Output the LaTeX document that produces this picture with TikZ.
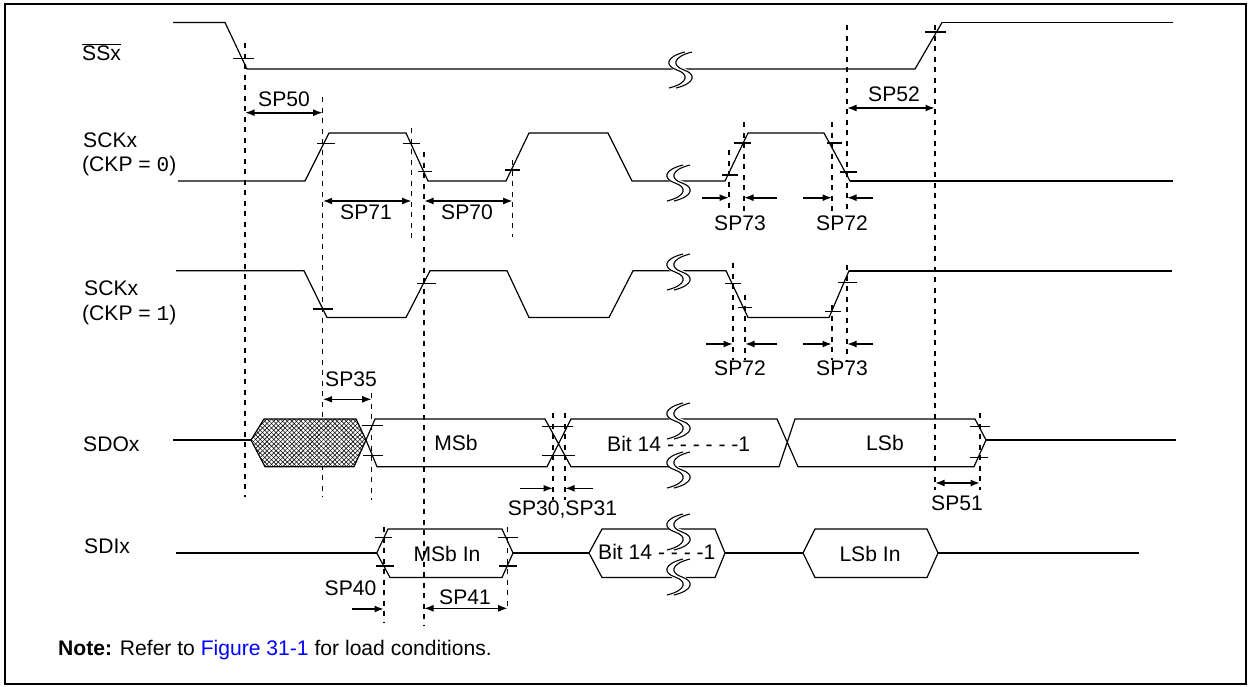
\documentclass[tikz,border=0pt]{standalone}
\usepackage{fontspec}
\setmainfont{Liberation Sans}
\newfontfamily\monof{Liberation Mono}
\usetikzlibrary{arrows.meta,patterns.meta}
\definecolor{figblue}{RGB}{0,0,255}
\newcommand\fs{\fontsize{21.1}{24}\selectfont}
\tikzset{
 sig/.style={line width=1.2pt, line join=miter},
 sigb/.style={line width=1.9pt},
 tk/.style={line width=1.4pt},
 vdash/.style={line width=1.5pt, dash pattern=on 5pt off 5.5pt},
 dim/.style={line width=1.6pt, {Latex[length=9.5pt,width=7pt]}-{Latex[length=9.5pt,width=7pt]}},
 rdim/.style={line width=1.6pt, -{Latex[length=9.5pt,width=7pt]}},
 lbl/.style={inner sep=0pt, anchor=base west, font=\fs},
 sp/.style={inner sep=0pt, anchor=base, font=\fs},
}
\newcommand\sqg[2]{%
 \draw[white,line width=6.5pt] ({#1+11.5},{#2-18}) .. controls ({#1-8.5},{#2-13}) and ({#1-8.5},{#2-4}) .. ({#1+3.5},{#2}) .. controls ({#1+15.5},{#2+4}) and ({#1+15.5},{#2+13}) .. ({#1-4.5},{#2+18});
 \foreach \o in {0,7}{%
 \draw[line width=1.1pt] ({#1+\o+8},{#2-18}) .. controls ({#1+\o-12},{#2-13}) and ({#1+\o-12},{#2-4}) .. ({#1+\o},{#2}) .. controls ({#1+\o+12},{#2+4}) and ({#1+\o+12},{#2+13}) .. ({#1+\o-8},{#2+18});}%
}
\begin{document}
\begin{tikzpicture}[x=1pt,y=-1pt]
\useasboundingbox (0,0) rectangle (1249,686);
\draw[line width=2pt] (5,4) rectangle (1246,684);

% labels
\node[lbl] (lss) at (82,60) {$\overline{\mbox{SSx}}$};
\node[lbl] (lck0) at (83,147) {SCKx};
\node[lbl] (lckp0) at (82,171) {(CKP = {\monof 0})};
\node[lbl] (lck1) at (84,295) {SCKx};
\node[lbl] (lckp1) at (82,320) {(CKP = {\monof 1})};
\node[lbl] (lsdo) at (83,451.7) {SDOx};
\node[lbl] (lsdi) at (84,553.3) {SDIx};

% dashed verticals
\foreach \x/\a/\b in {245/43/497, 322.7/97/497, 411.7/128/238, 424/152/625, 512.7/160/237,
  729/150/212, 744/122/213, 832/122/213, 847/25/213, 935/25/490,
  733/263/360, 745/295/360, 832/305/360, 847/265/360,
  371.7/393/500, 553/413/500, 565/413/500, 980/413/490, 384/527/622, 507.7/527/610}
  \draw[vdash] (\x,\a) -- (\x,\b);

% SSx
\draw[sig] (173,22.5) -- (225,22.5) -- (247,69) -- (915,69) -- (942,22.5);
\draw[sigb] (942,22.5) -- (1173,22.5);
% SCKx CKP=0
\draw[sig] (178,181) -- (305,181) -- (329,133) -- (406,133) -- (428,181) -- (506,181) -- (529,133) -- (608,133) -- (632,181) -- (725,181) -- (748,133) -- (824,133) -- (850,181);
\draw[sigb] (850,181) -- (1173,181);
% SCKx CKP=1
\draw[sig] (176,270.7) -- (304,270.7) -- (327,317.5) -- (406,317.5) -- (430,270.7) -- (507,270.7) -- (529,317.5) -- (609,317.5) -- (633,270.7) -- (726,270.7) -- (748,317.5) -- (829,317.5) -- (849,270.7);
\draw[sigb] (849,270.7) -- (1172,270.7);

% SDOx
\draw[sig] (173,440) -- (251,440);
\fill[white] (251,440) -- (264,419) -- (356,419) -- (366,440) -- (354,466.7) -- (265,466.7) -- cycle;
\fill[pattern={Lines[angle=45,distance=3.2pt,line width=0.55pt]}] (251,440) -- (264,419) -- (356,419) -- (366,440) -- (354,466.7) -- (265,466.7) -- cycle;
\fill[pattern={Lines[angle=-45,distance=3.2pt,line width=0.55pt]}] (251,440) -- (264,419) -- (356,419) -- (366,440) -- (354,466.7) -- (265,466.7) -- cycle;
\draw[sig] (251,440) -- (264,419) -- (356,419) -- (366,440) -- (354,466.7) -- (265,466.7) -- cycle;
\draw[sig] (366,440) -- (375,419) -- (545,419) -- (571,466.7) -- (779,466.7) -- (795,419) -- (975,419) -- (986,440) -- (974,466.7) -- (798,466.7) -- (777,419) -- (571,419) -- (547,466.7) -- (377,466.7) -- cycle;
\draw[sigb] (986,440) -- (1176,440);

% SDIx
\draw[sigb] (176,553) -- (376.7,553);
\draw[sig] (376.7,553) -- (388,529) -- (502,529) -- (513,553) -- (502,577.5) -- (390,577.5) -- cycle;
\draw[sigb] (513,553) -- (589,553);
\draw[sig] (589,553) -- (602,529) -- (715,529) -- (725,553) -- (715,577.5) -- (602,577.5) -- cycle;
\draw[sigb] (725,553) -- (803,553);
\draw[sig] (803,553) -- (815,529) -- (927,529) -- (938,553) -- (927,577.5) -- (815,577.5) -- cycle;
\draw[sigb] (938,553) -- (1139,553);

% breaks
\sqg{677}{70}
\sqg{675}{183}
\sqg{675}{272}
\sqg{675}{421}
\sqg{675}{470}
\sqg{675}{532}
\sqg{675}{577}

% ticks
\foreach \a/\b/\y in {233/254/58.7, 925/946/32,
  317/335/143.3, 403/420/143.3, 418/432/171.7, 505/520/170, 722/738/175, 734/751/143, 827/842/143, 840/857/172,
  313/333/309, 417/436/283.3, 725/741/283.3, 738/752/307.7, 825/841/311.7, 838/857/282.7,
  362/383/425.7, 363/383/455.7, 542/573/426.7, 542/575/455.7, 970/990/426.7, 970/988/457.7,
  375/392/537.7, 376/394/566, 498/518/537.7, 499/517/566}
  \draw[tk] (\a,\y) -- (\b,\y);

% dimension arrows
\draw[dim] (245,112.7) -- (322.7,112.7);
\draw[dim] (847,108) -- (935,108);
\draw[dim] (322.7,201) -- (411.7,201);
\draw[dim] (424,201) -- (512.7,201);
\draw[rdim] (702,197.7) -- (729,197.7);
\draw[rdim] (777,197.7) -- (744,197.7);
\draw[rdim] (803,197.7) -- (832,197.7);
\draw[rdim] (873,197.7) -- (847,197.7);
\draw[rdim] (706,344) -- (733,344);
\draw[rdim] (777,344) -- (745,344);
\draw[rdim] (803,344) -- (832,344);
\draw[rdim] (873,344) -- (847,344);
\draw[dim] (322.7,399.3) -- (371.7,399.3);
\draw[rdim] (520,488.3) -- (553,488.3);
\draw[rdim] (593,488.3) -- (565,488.3);
\draw[dim] (935,483) -- (980,483);
\draw[rdim] (352,609) -- (384,609);
\draw[dim] (424,608.3) -- (507.7,608.3);

% timing labels
\node[sp] (t50) at (284,106) {SP50};
\node[sp] (t52) at (894,101.7) {SP52};
\node[sp] (t71) at (366,219.3) {SP71};
\node[sp] (t70) at (467,219.3) {SP70};
\node[sp] (t73a) at (740,230) {SP73};
\node[sp] (t72a) at (842,230) {SP72};
\node[sp] (t72b) at (740,375) {SP72};
\node[sp] (t73b) at (842,375) {SP73};
\node[sp] (t35) at (351,386) {SP35};
\node[sp] (t3031) at (562.5,515) {SP30,SP31};
\node[sp] (t51) at (957,510.7) {SP51};
\node[sp] (t40) at (350.5,595) {SP40};
\node[sp] (t41) at (465,604) {SP41};

% data labels
\node[sp] (msb) at (456,450.7) {MSb};
\node[lbl] (b14o) at (607,451.7) {Bit 14 - - - - - -1};
\node[sp] (lsb) at (885,450.7) {LSb};
\node[sp] (msbin) at (447,561.7) {MSb In};
\node[lbl] (b14i) at (598,559.3) {Bit 14 - - - -1};
\node[sp] (lsbin) at (870,561.7) {LSb In};

\node[lbl] (note) at (58,655.7) {\textbf{Note:} Refer to \textcolor{figblue}{Figure 31-1} for load conditions.};
\end{tikzpicture}
\end{document}
